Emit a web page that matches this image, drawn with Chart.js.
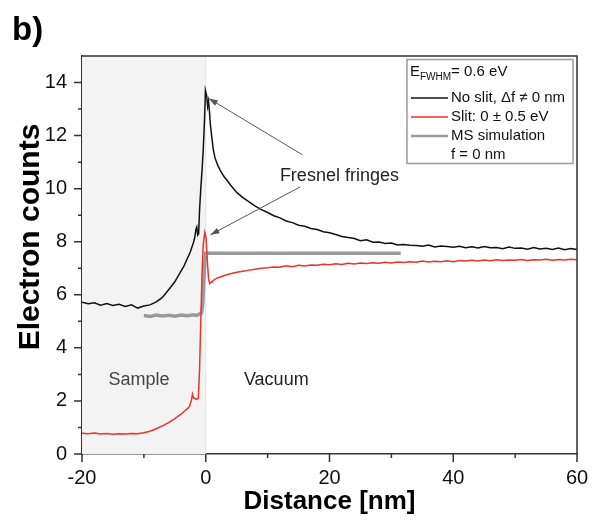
<!DOCTYPE html>
<html>
<head>
<meta charset="utf-8">
<script src="https://cdn.jsdelivr.net/npm/chart.js@4.4.0/dist/chart.umd.min.js"></script>
<style>
  html, body { margin: 0; padding: 0; background: #fff; }
  #wrap { width: 602px; height: 521px; }
</style>
</head>
<body>
<div id="wrap"><canvas id="myChart" width="602" height="521"></canvas></div>
<script>
// No slit (black)
var xNoSlit = [-20,-19,-18,-17,-16,-15,-14,-13,-12,-11,-10,-9,-8,-7,-6,-5,-4,-3.5,-3,-2.5,-2,-1.8,-1.6,-1.45,-1.3,-1.15,-1,-0.8,-0.6,-0.4,-0.2,-0.05,0.15,0.3,0.45,0.6,0.75,0.95,1.2,1.5,2,2.5,3,3.5,4,5,6,7,8,9,10,11,12,13,14,15,16,17,18,19,20,21,22,23,24,25,26,27,28,29,30,31,32,33,34,35,36,37,38,39,40,41,42,43,44,45,46,47,48,49,50,51,52,53,54,55,56,57,58,59,60];
var yNoSlit = [5.72,5.66,5.70,5.61,5.67,5.60,5.64,5.56,5.62,5.50,5.58,5.62,5.73,5.90,6.19,6.49,6.89,7.09,7.36,7.61,7.96,8.13,8.45,8.55,8.25,8.30,9.2,10.0,10.7,11.5,12.6,13.7,13.5,13.1,13.3,12.9,12.4,12.0,11.5,11.15,10.85,10.62,10.44,10.30,10.14,9.86,9.66,9.50,9.34,9.21,9.10,8.98,8.90,8.78,8.72,8.62,8.58,8.50,8.46,8.38,8.34,8.27,8.20,8.16,8.12,8.04,8.07,7.98,7.99,7.93,7.95,7.88,7.90,7.87,7.86,7.83,7.88,7.80,7.84,7.82,7.79,7.83,7.77,7.81,7.76,7.82,7.77,7.78,7.74,7.80,7.75,7.76,7.72,7.78,7.73,7.75,7.71,7.76,7.70,7.74,7.71];

// Slit (red)
var xSlit = [-20,-19,-18,-17,-16,-15,-14,-13,-12,-11,-10,-9,-8,-7,-6,-5,-4,-3.5,-3,-2.6,-2.3,-2.15,-2,-1.8,-1.5,-1.2,-1.0,-0.8,-0.6,-0.4,-0.15,0.05,0.25,0.45,0.65,0.85,1,1.5,2,3,4,5,6,7,8,9,10,11,12,13,14,15,16,17,18,19,20,21,22,23,24,25,26,27,28,29,30,31,32,33,34,35,36,37,38,39,40,41,42,43,44,45,46,47,48,49,50,51,52,53,54,55,56,57,58,59,60];
var ySlit = [0.78,0.76,0.79,0.75,0.77,0.74,0.76,0.75,0.77,0.76,0.80,0.86,0.95,1.06,1.18,1.33,1.50,1.60,1.70,1.80,2.05,2.25,2.12,2.10,2.06,2.10,3.2,5.0,6.8,7.9,8.35,8.15,7.3,6.6,6.42,6.47,6.50,6.59,6.64,6.73,6.79,6.85,6.89,6.93,6.96,7.00,7.02,7.05,7.04,7.09,7.06,7.11,7.09,7.12,7.11,7.15,7.13,7.17,7.14,7.19,7.16,7.20,7.18,7.21,7.19,7.23,7.20,7.24,7.22,7.25,7.23,7.27,7.24,7.26,7.25,7.28,7.25,7.29,7.27,7.30,7.27,7.31,7.28,7.32,7.29,7.31,7.30,7.33,7.29,7.32,7.31,7.34,7.30,7.33,7.31,7.34,7.32];

// MS simulation (grey)
var xSim = [-10,-9,-8,-7,-6,-5,-4,-3,-2,-1.5,-1,-0.7,-0.5,-0.3,-0.1,0,31.5];
var ySim = [5.22,5.18,5.24,5.20,5.23,5.19,5.24,5.21,5.25,5.22,5.28,5.32,5.6,6.6,7.4,7.57,7.57];

var xTicks = [-20, 0, 20, 40, 60];
var xMinor = [-10, 10, 30, 50];
var yTicks = [0, 2, 4, 6, 8, 10, 12, 14];
var yMinor = [1, 3, 5, 7, 9, 11, 13];

var FONT = "'Liberation Sans', Arial, Helvetica, sans-serif";

function pts(xs, ys) {
  return xs.map(function (x, i) { return { x: x, y: ys[i] }; });
}

// annotation positions (data units)
var notes = {
  arrows: [
    { from: [15.6, 11.28], to: [0.5, 13.4] },
    { from: [15.3, 10.07], to: [0.75, 8.26] }
  ],
  fresnel: [21.6, 10.49],
  sample: [-10.8, 2.77],
  vacuum: [11.4, 2.77]
};

var decor = {
  id: 'decor',
  beforeDatasetsDraw: function (chart) {
    var c = chart.ctx, a = chart.chartArea, sx = chart.scales.x;
    var x0 = sx.getPixelForValue(-20), x1 = sx.getPixelForValue(0);
    c.save();
    c.fillStyle = '#f3f3f3';
    c.fillRect(x0, a.top, x1 - x0, a.bottom - a.top);
    c.strokeStyle = '#e2e2e2';
    c.lineWidth = 1;
    c.beginPath(); c.moveTo(x1, a.top); c.lineTo(x1, a.bottom); c.stroke();
    c.restore();
  },
  afterDraw: function (chart) {
    var c = chart.ctx, a = chart.chartArea, sx = chart.scales.x, sy = chart.scales.y;
    c.save();
    // box
    c.strokeStyle = '#333';
    c.lineWidth = 1.5;
    c.beginPath();
    c.moveTo(a.left, a.top); c.lineTo(a.right, a.top); c.lineTo(a.right, a.bottom);
    c.stroke();
    // ticks
    c.beginPath();
    xTicks.forEach(function (v) { var p = sx.getPixelForValue(v); c.moveTo(p, a.bottom); c.lineTo(p, a.bottom + 8); });
    xMinor.forEach(function (v) { var p = sx.getPixelForValue(v); c.moveTo(p, a.bottom); c.lineTo(p, a.bottom + 4); });
    yTicks.forEach(function (v) { var p = sy.getPixelForValue(v); c.moveTo(a.left, p); c.lineTo(a.left - 8, p); });
    yMinor.forEach(function (v) { var p = sy.getPixelForValue(v); c.moveTo(a.left, p); c.lineTo(a.left - 4, p); });
    c.stroke();

    // arrows
    c.strokeStyle = '#555';
    c.fillStyle = '#555';
    c.lineWidth = 1;
    notes.arrows.forEach(function (ar) {
      var fx = sx.getPixelForValue(ar.from[0]), fy = sy.getPixelForValue(ar.from[1]);
      var tx = sx.getPixelForValue(ar.to[0]), ty = sy.getPixelForValue(ar.to[1]);
      var ang = Math.atan2(ty - fy, tx - fx);
      c.beginPath(); c.moveTo(fx, fy); c.lineTo(tx, ty); c.stroke();
      c.beginPath();
      c.moveTo(tx, ty);
      c.lineTo(tx - 9 * Math.cos(ang) + 3 * Math.sin(ang), ty - 9 * Math.sin(ang) - 3 * Math.cos(ang));
      c.lineTo(tx - 9 * Math.cos(ang) - 3 * Math.sin(ang), ty - 9 * Math.sin(ang) + 3 * Math.cos(ang));
      c.closePath(); c.fill();
    });

    // labels
    c.textBaseline = 'middle';
    c.textAlign = 'center';
    c.font = '18px ' + FONT;
    c.fillStyle = '#222';
    c.fillText('Fresnel fringes', sx.getPixelForValue(notes.fresnel[0]), sy.getPixelForValue(notes.fresnel[1]));
    c.fillStyle = '#444';
    c.fillText('Sample', sx.getPixelForValue(notes.sample[0]), sy.getPixelForValue(notes.sample[1]));
    c.fillStyle = '#222';
    c.fillText('Vacuum', sx.getPixelForValue(notes.vacuum[0]), sy.getPixelForValue(notes.vacuum[1]));

    // y axis title
    c.save();
    c.translate(31, 237);
    c.rotate(-Math.PI / 2);
    c.font = 'bold 30px ' + FONT;
    c.fillStyle = '#000';
    c.fillText('Electron counts', 0, 0);
    c.restore();

    // legend box
    c.strokeStyle = '#9a9a9a';
    c.lineWidth = 1.5;
    c.strokeRect(407, 59.5, 166, 104);
    c.textAlign = 'left';
    c.fillStyle = '#111';
    c.font = '15px ' + FONT;
    var ex = 410, ey = 72;
    c.fillText('E', ex, ey);
    ex += c.measureText('E').width;
    c.font = '10px ' + FONT;
    c.fillText('FWHM', ex, ey + 5);
    ex += c.measureText('FWHM').width;
    c.font = '15px ' + FONT;
    c.fillText('= 0.6 eV', ex, ey);

    var rows = [
      { y: 98, color: '#111', w: 1.5, text: 'No slit, \u0394f \u2260 0 nm' },
      { y: 117, color: '#e8352a', w: 1.5, text: 'Slit: 0 \u00b1 0.5 eV' },
      { y: 136, color: '#999', w: 2.5, text: 'MS simulation' }
    ];
    rows.forEach(function (r) {
      c.strokeStyle = r.color;
      c.lineWidth = r.w;
      c.beginPath(); c.moveTo(411, r.y); c.lineTo(448, r.y); c.stroke();
      c.fillText(r.text, 451, r.y);
    });
    c.fillText('f = 0 nm', 451, 155);

    // panel letter
    c.font = 'bold 33px ' + FONT;
    c.textBaseline = 'alphabetic';
    c.fillStyle = '#000';
    c.fillText('b)', 12, 40);
    c.restore();
  }
};

var ctx = document.getElementById('myChart').getContext('2d');
var myChart = new Chart(ctx, {
  type: 'scatter',
  data: {
    datasets: [
      {
        label: 'No slit',
        data: pts(xNoSlit, yNoSlit),
        showLine: true,
        borderColor: '#111',
        borderWidth: 1.5,
        pointRadius: 0,
        tension: 0
      },
      {
        label: 'Slit',
        data: pts(xSlit, ySlit),
        showLine: true,
        borderColor: '#e8352a',
        borderWidth: 1.5,
        pointRadius: 0,
        tension: 0
      },
      {
        label: 'MS simulation',
        data: pts(xSim, ySim),
        showLine: true,
        borderColor: '#9a9a9a',
        borderWidth: 3.5,
        pointRadius: 0,
        tension: 0
      }
    ]
  },
  options: {
    responsive: false,
    animation: false,
    layout: { padding: { left: 0, right: 25, top: 56, bottom: 0 } },
    plugins: {
      legend: { display: false },
      tooltip: { enabled: false }
    },
    scales: {
      x: {
        type: 'linear',
        min: -20,
        max: 60,
        afterBuildTicks: function (s) { s.ticks = xTicks.map(function (v) { return { value: v }; }); },
        afterFit: function (s) { s.height = 67; },
        grid: { display: false, drawTicks: false },
        border: { display: true, color: '#333', width: 1.5 },
        ticks: { padding: 12, color: '#111', font: { family: FONT, size: 20 }, maxRotation: 0 },
        title: { display: true, text: 'Distance [nm]', color: '#000', font: { family: FONT, size: 26, weight: 'bold' }, padding: { top: 4, bottom: 4 } }
      },
      y: {
        type: 'linear',
        min: 0,
        max: 15,
        afterBuildTicks: function (s) { s.ticks = yTicks.map(function (v) { return { value: v }; }); },
        afterFit: function (s) { s.width = 82; },
        grid: { display: false, drawTicks: false },
        border: { display: true, color: '#333', width: 1.5 },
        ticks: { padding: 15, color: '#111', font: { family: FONT, size: 20 } },
        title: { display: false }
      }
    }
  },
  plugins: [decor]
});
</script>
</body>
</html>
